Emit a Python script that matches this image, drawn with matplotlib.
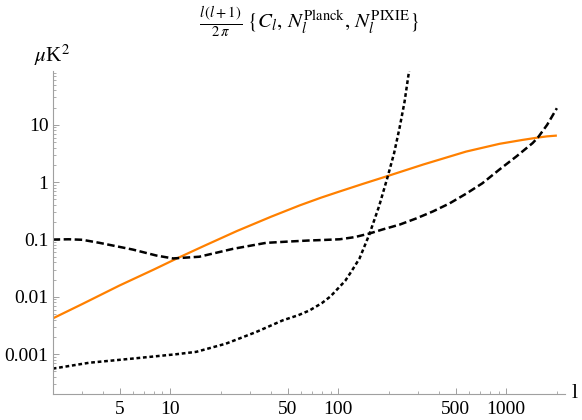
"""Power spectrum vs. Planck / PIXIE noise, log-log."""

import matplotlib
matplotlib.use("Agg")
import matplotlib.pyplot as plt
from matplotlib.ticker import FixedLocator, NullFormatter, FixedFormatter

plt.rcParams["font.family"] = "serif"
plt.rcParams["font.serif"] = ["Liberation Serif", "DejaVu Serif"]
plt.rcParams["mathtext.fontset"] = "stix"

# C_l (orange, solid)
cl_l = [2, 3, 5, 8, 11, 16, 25, 40, 59, 79, 100, 140, 200, 320, 577, 912,
        1250, 1542, 1750, 2000]
cl_v = [0.0042, 0.0075, 0.0158, 0.030, 0.047, 0.078, 0.141, 0.251, 0.394,
        0.537, 0.676, 0.933, 1.30, 2.03, 3.42, 4.67, 5.46, 6.0, 6.3, 6.5]

# N_l Planck (dashed)
planck_l = [2, 2.5, 3, 3.8, 6, 8.3, 10.4, 14.9, 23.6, 37.2, 50, 67, 80, 102,
            125, 153, 184, 232, 292, 366, 460, 577, 720, 910, 1150, 1434,
            1542, 1750, 2000]
planck_v = [0.100, 0.101, 0.099, 0.0875, 0.0668, 0.0525, 0.0468, 0.0501,
            0.0687, 0.0875, 0.092, 0.0962, 0.098, 0.101, 0.110, 0.127, 0.150,
            0.182, 0.234, 0.309, 0.427, 0.63, 0.955, 1.66, 2.82, 4.8, 6.0,
            10.0, 19.5]

# N_l PIXIE (dotted)
pixie_l = [2, 3.3, 6, 10.9, 14.3, 21.5, 32.5, 46.8, 58, 67.5, 80, 90, 110,
           120, 134, 153, 175, 197, 215, 232, 248, 264, 280]
pixie_v = [5.6e-4, 7.1e-4, 8.4e-4, 1.0e-3, 1.1e-3, 1.53e-3, 2.44e-3, 3.9e-3,
           4.8e-3, 5.8e-3, 7.8e-3, 0.0102, 0.019, 0.028, 0.047, 0.122, 0.38,
           1.25, 3.2, 9.0, 25, 87, 316]

x_major = [5, 10, 50, 100, 500, 1000]
x_minor = [2, 3, 4, 6, 7, 8, 9, 20, 30, 40, 60, 70, 80, 90,
           200, 300, 400, 600, 700, 800, 900, 2000]
y_major = [0.001, 0.01, 0.1, 1, 10]
y_labels = ["0.001", "0.01", "0.1", "1", "10"]

fig = plt.figure(figsize=(5.82, 4.2), dpi=100)
ax = fig.add_axes([0.0905, 0.0612, 0.8802, 0.7705])

ax.plot(cl_l, cl_v, color="#ff8000", lw=1.6, solid_capstyle="butt")
ax.plot(planck_l, planck_v, color="black", lw=1.8, dashes=(3.0, 1.4))
ax.plot(pixie_l, pixie_v, color="black", lw=1.8, dashes=(1.5, 1.1))

ax.set_xscale("log")
ax.set_yscale("log")
ax.set_xlim(2, 2234)
ax.set_ylim(2e-4, 88)

ax.xaxis.set_major_locator(FixedLocator(x_major))
ax.xaxis.set_major_formatter(FixedFormatter([str(v) for v in x_major]))
ax.xaxis.set_minor_locator(FixedLocator(x_minor))
ax.xaxis.set_minor_formatter(NullFormatter())

y_minor = [m * 10.0 ** e for e in range(-4, 2) for m in range(2, 10)]
ax.yaxis.set_major_locator(FixedLocator(y_major))
ax.yaxis.set_major_formatter(FixedFormatter(y_labels))
ax.yaxis.set_minor_locator(FixedLocator(y_minor))
ax.yaxis.set_minor_formatter(NullFormatter())

for side in ["top", "right"]:
    ax.spines[side].set_visible(False)
for side in ["left", "bottom"]:
    ax.spines[side].set_color("#a0a0a0")
    ax.spines[side].set_linewidth(0.8)

ax.tick_params(which="major", direction="in", length=4, width=0.7,
               color="#a0a0a0", labelsize=14, labelcolor="black")
ax.tick_params(which="minor", direction="in", length=2, width=0.6,
               color="#a0a0a0")
ax.tick_params(axis="x", which="major", pad=5)
ax.tick_params(axis="y", which="major", pad=3)

fig.text(52 / 582, 1 - 55 / 420, r"$\mu$K$^2$", fontsize=15,
         ha="center", va="center")
fig.text(575 / 582, 1 - 394 / 420, "l", fontsize=16, ha="center", va="center")
fig.text(309 / 582, 1 - 22 / 420,
         r"$\frac{l\,(l+1)}{2\,\pi}\ \{C_l,\, N_l^{\mathrm{Planck}},\, N_l^{\mathrm{PIXIE}}\}$",
         fontsize=15, ha="center", va="center")

fig.savefig("out.png", facecolor="white")
